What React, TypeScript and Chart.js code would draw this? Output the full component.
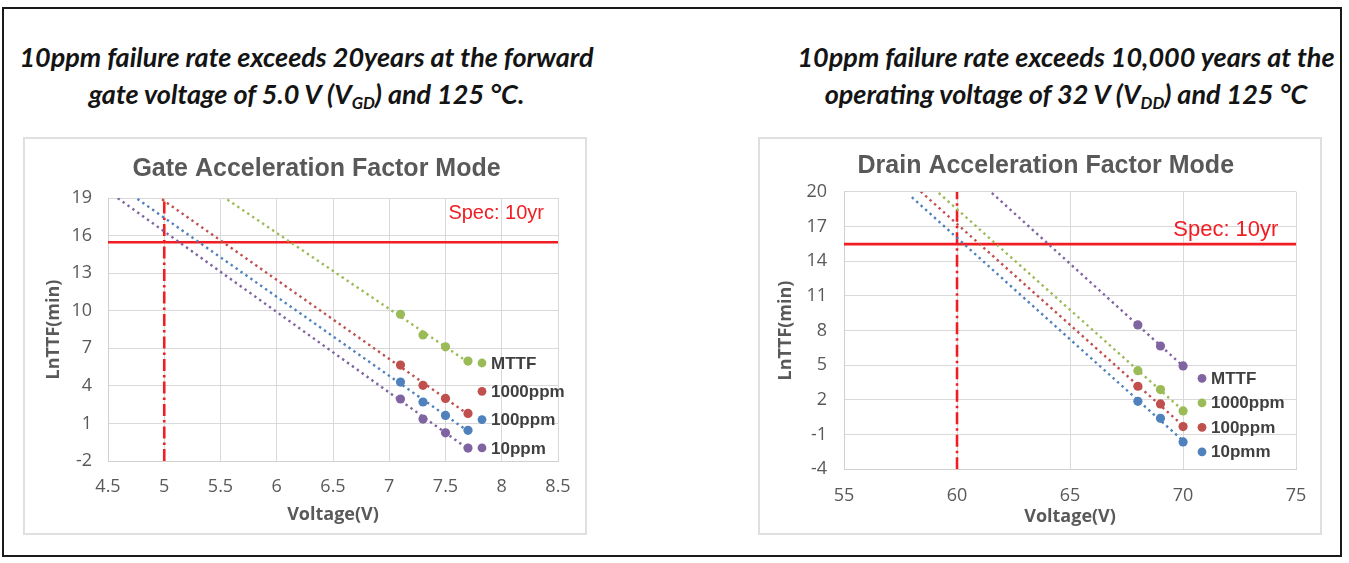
import React, { useEffect, useRef } from "react";
import { Chart, registerables } from "chart.js";

Chart.register(...registerables);

// ---------- Gate acceleration factor mode (left) ----------
const gateVoltages = [7.1, 7.3, 7.5, 7.7];
const gateMTTF = [9.71, 8.06, 7.12, 5.98];
const gate1000ppm = [5.66, 4.04, 3.0, 1.8];
const gate100ppm = [4.3, 2.71, 1.64, 0.45];
const gate10ppm = [2.95, 1.35, 0.25, -0.97];
const gateSeriesLabels = ["MTTF", "1000ppm", "100ppm", "10ppm"];
const gateXTicks = [4.5, 5, 5.5, 6, 6.5, 7, 7.5, 8, 8.5];
const gateYTicks = [-2, 1, 4, 7, 10, 13, 16, 19];
const gateUseVoltage = 5;
const gateForecastFrom = 4.5;

// ---------- Drain acceleration factor mode (right) ----------
const drainVoltages = [68, 69, 70];
const drainMTTF = [8.48, 6.66, 4.94];
const drain1000ppm = [4.53, 2.89, 1.05];
const drain100ppm = [3.18, 1.65, -0.31];
const drain10pmm = [1.88, 0.41, -1.63];
const drainSeriesLabels = ["MTTF", "1000ppm", "100ppm", "10pmm"];
const drainXTicks = [55, 60, 65, 70, 75];
const drainYTicks = [-4, -1, 2, 5, 8, 11, 14, 17, 20];
const drainUseVoltage = 60;
const drainForecastFrom = 58;

// Spec: 10 years expressed as ln(minutes)
const specLnTTF = 15.47;

const GREEN = "#9BBB59";
const RED = "#C0504D";
const BLUE = "#4F81BD";
const PURPLE = "#8064A2";
const SPEC_RED = "#f01e23";

type Series = { label: string; color: string; values: number[] };

type Layout = {
  yAxisWidth: number;
  padTop: number;
  padRight: number;
  xAxisHeight: number;
  yTickPad: number;
  xTickPad: number;
  yTitlePad: number;
  xTitlePad: number;
  titleX: number;
  titleY: number;
  specRight: number;
  specBaseline: number;
  specSize: number;
  legendX: number;
  legendY: number;
  legendGap: number;
};

function linFit(xs: number[], ys: number[]) {
  const n = xs.length;
  const mx = xs.reduce((a, b) => a + b, 0) / n;
  const my = ys.reduce((a, b) => a + b, 0) / n;
  let sxy = 0;
  let sxx = 0;
  for (let i = 0; i < n; i++) {
    sxy += (xs[i] - mx) * (ys[i] - my);
    sxx += (xs[i] - mx) * (xs[i] - mx);
  }
  const slope = sxy / sxx;
  return { slope, intercept: my - slope * mx };
}

const fmt = (v: number) => String(Number(v.toFixed(2)));

interface PanelProps {
  title: string;
  xs: number[];
  series: Series[];
  xTicks: number[];
  yTicks: number[];
  forecastFrom: number;
  useVoltage: number;
  layout: Layout;
  left: number;
  top: number;
}

const W = 564;
const H = 398;

function Panel(props: PanelProps) {
  const ref = useRef<HTMLCanvasElement | null>(null);
  useEffect(() => {
    const canvas = ref.current;
    if (!canvas) return;
    const { title, xs, series, xTicks, yTicks, forecastFrom, useVoltage, layout: L } = props;
    const xMin = xTicks[0];
    const xMax = xTicks[xTicks.length - 1];
    const yMin = yTicks[0];
    const yMax = yTicks[yTicks.length - 1];
    const lastX = xs[xs.length - 1];

    const pointSets = series.map((s) => ({
      label: s.label,
      data: xs.map((x, i) => ({ x, y: s.values[i] })),
      backgroundColor: s.color,
      borderColor: s.color,
      pointRadius: 4.6,
      pointBorderWidth: 0,
      showLine: false,
    }));
    const trendSets = series.map((s) => {
      const f = linFit(xs, s.values);
      return {
        label: s.label + " trend",
        data: [
          { x: forecastFrom, y: f.intercept + f.slope * forecastFrom },
          { x: lastX, y: f.intercept + f.slope * lastX },
        ],
        borderColor: s.color,
        backgroundColor: s.color,
        borderWidth: 2.4,
        borderDash: [2.4, 3.6],
        pointRadius: 0,
        showLine: true,
      };
    });
    const specSet = {
      label: "Spec",
      data: [
        { x: xMin, y: specLnTTF },
        { x: xMax, y: specLnTTF },
      ],
      borderColor: SPEC_RED,
      backgroundColor: SPEC_RED,
      borderWidth: 2.6,
      pointRadius: 0,
      showLine: true,
    };
    const useSet = {
      label: "Use voltage",
      data: [
        { x: useVoltage, y: yMin },
        { x: useVoltage, y: yMax },
      ],
      borderColor: SPEC_RED,
      backgroundColor: SPEC_RED,
      borderWidth: 2.6,
      borderDash: [12, 4, 2.5, 4],
      pointRadius: 0,
      showLine: true,
    };

    const overlay = {
      id: "overlay",
      afterDraw(chart: any) {
        const ctx = chart.ctx as CanvasRenderingContext2D;
        const ca = chart.chartArea;
        ctx.save();
        // chart title
        ctx.font = 'bold 25px "Liberation Sans", Arial, sans-serif';
        ctx.fillStyle = "#595959";
        ctx.textAlign = "center";
        ctx.textBaseline = "alphabetic";
        ctx.fillText(title, L.titleX, L.titleY);
        // spec label
        ctx.font = `${L.specSize}px "Liberation Sans", Arial, sans-serif`;
        ctx.fillStyle = SPEC_RED;
        ctx.textAlign = "right";
        ctx.fillText("Spec: 10yr", ca.right - L.specRight, ca.top + L.specBaseline);
        // legend
        ctx.font = 'bold 17px "Liberation Sans", Arial, sans-serif';
        ctx.textAlign = "left";
        ctx.textBaseline = "middle";
        series.forEach((s, i) => {
          const y = ca.top + L.legendY + i * L.legendGap;
          const x = ca.left + L.legendX;
          ctx.fillStyle = s.color;
          ctx.beginPath();
          ctx.arc(x, y, 4.4, 0, Math.PI * 2);
          ctx.fill();
          ctx.fillStyle = "#404040";
          ctx.fillText(s.label, x + 9, y + 1);
        });
        ctx.restore();
      },
    };

    const chart = new Chart(canvas, {
      type: "scatter",
      data: { datasets: [...pointSets, ...trendSets, useSet, specSet] as any },
      options: {
        animation: false,
        responsive: false,
        events: [],
        layout: { padding: { top: L.padTop, right: L.padRight, bottom: 0, left: 0 } },
        plugins: { legend: { display: false }, tooltip: { enabled: false }, title: { display: false } },
        scales: {
          x: {
            type: "linear",
            min: xMin,
            max: xMax,
            afterFit: (s: any) => {
              s.height = L.xAxisHeight;
            },
            afterBuildTicks: (s: any) => {
              s.ticks = xTicks.map((v) => ({ value: v }));
            },
            grid: { color: "#d9d9d9", lineWidth: 1, drawTicks: false },
            border: { color: "#d0d0d0", width: 1 },
            ticks: {
              autoSkip: false,
              maxRotation: 0,
              padding: L.xTickPad,
              color: "#595959",
              font: { family: '"Open Sans", sans-serif', size: 18 },
              callback: (v: any) => fmt(Number(v)),
            },
            title: {
              display: true,
              text: "Voltage(V)",
              color: "#595959",
              font: { family: '"Open Sans", sans-serif', size: 18, weight: "bold" },
              padding: { top: 0, bottom: L.xTitlePad },
            },
          },
          y: {
            type: "linear",
            min: yMin,
            max: yMax,
            afterFit: (s: any) => {
              s.width = L.yAxisWidth;
            },
            afterBuildTicks: (s: any) => {
              s.ticks = yTicks.map((v) => ({ value: v }));
            },
            grid: { color: "#d9d9d9", lineWidth: 1, drawTicks: false },
            border: { color: "#d0d0d0", width: 1 },
            ticks: {
              autoSkip: false,
              padding: L.yTickPad,
              color: "#595959",
              font: { family: '"Open Sans", sans-serif', size: 18 },
              callback: (v: any) => fmt(Number(v)),
            },
            title: {
              display: true,
              text: "LnTTF(min)",
              color: "#595959",
              font: { family: '"Open Sans", sans-serif', size: 18, weight: "bold" },
              padding: { top: L.yTitlePad, bottom: 0 },
            },
          },
        },
      } as any,
      plugins: [overlay as any],
    });
    return () => chart.destroy();
  }, []);

  return (
    <>
      <div
        style={{
          position: "absolute",
          left: props.left,
          top: props.top,
          width: W,
          height: H,
          boxSizing: "border-box",
          border: "2px solid #e0e0e0",
          background: "#fff",
        }}
      />
      <canvas
        ref={ref}
        width={W}
        height={H}
        style={{ position: "absolute", left: props.left, top: props.top, width: W, height: H }}
      />
    </>
  );
}

const gateLayout: Layout = {
  yAxisWidth: 85,
  padTop: 61,
  padRight: 29,
  xAxisHeight: 74,
  yTickPad: 16,
  xTickPad: 15,
  yTitlePad: 20.2,
  xTitlePad: 9.2,
  titleX: 293.5,
  titleY: 39,
  specRight: 14,
  specBaseline: 21,
  specSize: 20,
  legendX: 374,
  legendY: 165,
  legendGap: 28.3,
};

const drainLayout: Layout = {
  yAxisWidth: 86,
  padTop: 54.7,
  padRight: 24.3,
  xAxisHeight: 65.7,
  yTickPad: 17,
  xTickPad: 15.6,
  yTitlePad: 17.2,
  xTitlePad: 7.7,
  titleX: 287.8,
  titleY: 36.3,
  specRight: 17.7,
  specBaseline: 44,
  specSize: 22,
  legendX: 358,
  legendY: 186.6,
  legendGap: 24.5,
};

const subStyle: React.CSSProperties = { fontSize: "0.62em", verticalAlign: "-0.32em", lineHeight: 0 };

const headStyle: React.CSSProperties = {
  position: "absolute",
  top: 39,
  width: 640,
  textAlign: "center",
  fontFamily: "Lato, sans-serif",
  fontStyle: "italic",
  fontWeight: 700,
  fontSize: 27,
  lineHeight: "36.7px",
  color: "#141414",
  whiteSpace: "nowrap",
};

export default function App() {
  const gateSeries: Series[] = [
    { label: gateSeriesLabels[0], color: GREEN, values: gateMTTF },
    { label: gateSeriesLabels[1], color: RED, values: gate1000ppm },
    { label: gateSeriesLabels[2], color: BLUE, values: gate100ppm },
    { label: gateSeriesLabels[3], color: PURPLE, values: gate10ppm },
  ];
  const drainSeries: Series[] = [
    { label: drainSeriesLabels[0], color: PURPLE, values: drainMTTF },
    { label: drainSeriesLabels[1], color: GREEN, values: drain1000ppm },
    { label: drainSeriesLabels[2], color: RED, values: drain100ppm },
    { label: drainSeriesLabels[3], color: BLUE, values: drain10pmm },
  ];
  return (
    <div
      style={{
        position: "absolute",
        left: 0,
        top: 0,
        width: 1349,
        height: 563,
        overflow: "hidden",
        background: "#fff",
      }}
    >
      <div
        style={{
          position: "absolute",
          left: 2,
          top: 7,
          width: 1340,
          height: 550,
          boxSizing: "border-box",
          border: "2px solid #1a1a1a",
        }}
      />
      <div style={{ ...headStyle, left: 306.5 - 320 }}>
        10ppm failure rate exceeds 20years at the forward
        <br />
        gate voltage of 5.0 V (V<sub style={subStyle}>GD</sub>) and 125 °C.
      </div>
      <div style={{ ...headStyle, left: 1066 - 320 }}>
        10ppm failure rate exceeds 10,000 years at the
        <br />
        operating voltage of 32 V (V<sub style={subStyle}>DD</sub>) and 125 °C
      </div>
      <Panel
        title="Gate Acceleration Factor Mode"
        xs={gateVoltages}
        series={gateSeries}
        xTicks={gateXTicks}
        yTicks={gateYTicks}
        forecastFrom={gateForecastFrom}
        useVoltage={gateUseVoltage}
        layout={gateLayout}
        left={23}
        top={137}
      />
      <Panel
        title="Drain Acceleration Factor Mode"
        xs={drainVoltages}
        series={drainSeries}
        xTicks={drainXTicks}
        yTicks={drainYTicks}
        forecastFrom={drainForecastFrom}
        useVoltage={drainUseVoltage}
        layout={drainLayout}
        left={758}
        top={137}
      />
    </div>
  );
}
